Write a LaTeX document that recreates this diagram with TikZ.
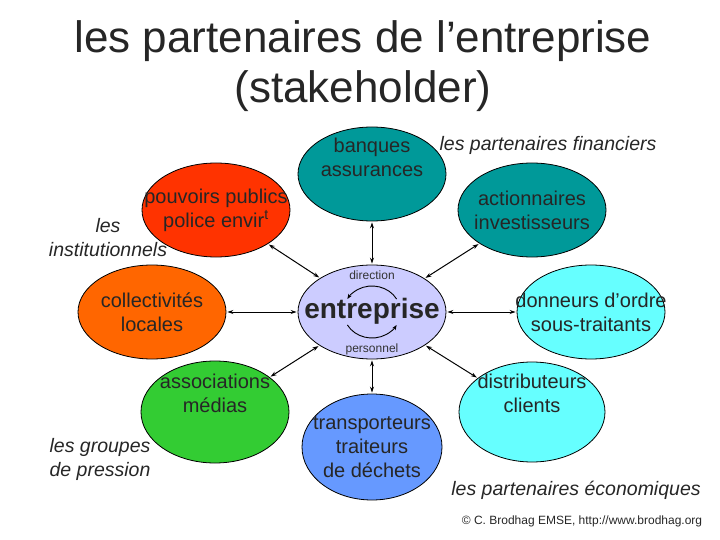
\documentclass[tikz,border=0pt]{standalone}
\usepackage{fontspec}
\setmainfont{Liberation Sans}
\usetikzlibrary{shapes.geometric,arrows.meta}
\definecolor{cred}{HTML}{FF3300}
\definecolor{corange}{HTML}{FF6600}
\definecolor{cteal}{HTML}{009999}
\definecolor{cent}{HTML}{CCCCFF}
\definecolor{ccyan}{HTML}{66FFFF}
\definecolor{cgreen}{HTML}{33CC33}
\definecolor{cblue}{HTML}{6699FF}
\begin{document}
\begin{tikzpicture}[x=1pt,y=-1pt,
  ell/.style={ellipse,draw=black,line width=0.8pt,minimum width=148pt,minimum height=94pt,inner sep=-30pt,align=center,font=\fontsize{20}{24}\selectfont,text=black!85},
  conn/.style={{Stealth[length=6pt,width=4pt]}-{Stealth[length=6pt,width=4pt]},line width=1pt,shorten <=1pt,shorten >=1pt},
  grp/.style={font=\itshape\fontsize{19.5}{24}\selectfont,align=left,text=black!85}]
\useasboundingbox (0,0) rectangle (720,540);
\node[font=\fontsize{44}{50}\selectfont,align=center,text=black!85] (title) at (363,66) {les partenaires de l’entreprise\\(stakeholder)};
\node[ell,fill=cent] (ent) at (372,312) {};
\node[font=\bfseries\fontsize{28}{32}\selectfont,text=black!85] (entt) at (372,311) {entreprise};
\node[font=\fontsize{12}{14}\selectfont,text=black!80] (dir) at (372,275) {direction};
\node[font=\fontsize{12}{14}\selectfont,text=black!80] (pers) at (372,349) {personnel};
\draw[line width=0.9pt,-{Stealth[length=5pt,width=4pt]}] (ent.center) ++(24.6,-13) arc[start angle=-30,end angle=-150,x radius=28.4,y radius=26];
\draw[line width=0.9pt,-{Stealth[length=5pt,width=4pt]}] (ent.center) ++(-24.6,13) arc[start angle=150,end angle=30,x radius=28.4,y radius=26];
\node[ell,fill=cteal] (ban) at (372,174) {banques\\assurances\\[10pt]};
\node[ell,fill=cred] (pou) at (216,210) {pouvoirs publics\\police envir\textsuperscript{t}};
\node[ell,fill=cteal] (act) at (532,210) {actionnaires\\investisseurs};
\node[ell,fill=corange] (col) at (152,312) {collectivités\\locales};
\node[ell,fill=ccyan] (don) at (591,312) {donneurs d’ordre\\sous-traitants};
\node[ell,fill=cgreen,minimum height=102pt] (ass) at (215,412) {associations\\médias\\[14pt]};
\node[ell,fill=cblue,minimum width=140pt,minimum height=106pt] (tra) at (372,447) {transporteurs\\traiteurs\\de déchets};
\node[ell,fill=ccyan,minimum width=146pt,minimum height=100pt] (dis) at (532,412) {distributeurs\\clients\\[14pt]};
\foreach \n in {ban,pou,act,col,don,ass,tra,dis} \draw[conn] (ent) -- (\n);
\node[grp,align=center] (gi) at (108,238) {les\\institutionnels};
\node[grp] (gf) at (548,145) {les partenaires financiers};
\node[grp] (gp) at (100,459) {les groupes\\de pression};
\node[grp] (ge) at (576,490) {les partenaires économiques};
\node[font=\fontsize{12}{14}\selectfont,text=black!85] (copy) at (582,521) {© C. Brodhag EMSE, http://www.brodhag.org};
\end{tikzpicture}
\end{document}
